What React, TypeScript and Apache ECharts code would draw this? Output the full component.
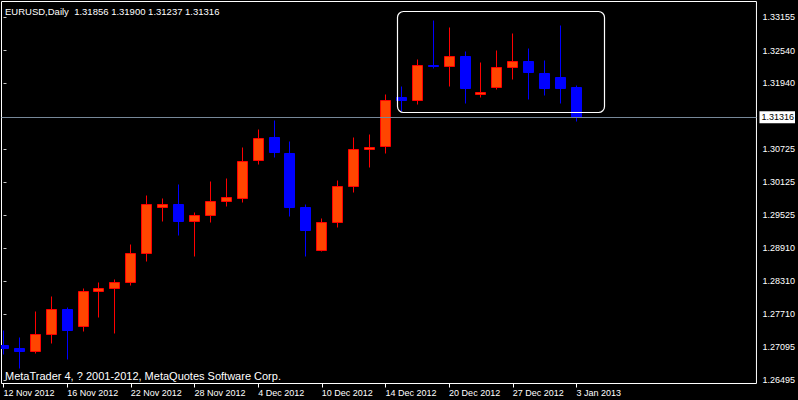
import React, { useEffect, useRef } from "react";
import * as echarts from "echarts";

// Daily EURUSD candles, 12 Nov 2012 .. 3 Jan 2013
const dates = [
  "12 Nov 2012", "13 Nov 2012", "14 Nov 2012", "15 Nov 2012", "16 Nov 2012",
  "19 Nov 2012", "20 Nov 2012", "21 Nov 2012", "22 Nov 2012", "23 Nov 2012",
  "26 Nov 2012", "27 Nov 2012", "28 Nov 2012", "29 Nov 2012", "30 Nov 2012",
  "3 Dec 2012", "4 Dec 2012", "5 Dec 2012", "6 Dec 2012", "7 Dec 2012",
  "10 Dec 2012", "11 Dec 2012", "12 Dec 2012", "13 Dec 2012", "14 Dec 2012",
  "17 Dec 2012", "18 Dec 2012", "19 Dec 2012", "20 Dec 2012", "21 Dec 2012",
  "24 Dec 2012", "26 Dec 2012", "27 Dec 2012", "28 Dec 2012", "31 Dec 2012",
  "2 Jan 2013", "3 Jan 2013",
];

const opens = [
  1.27119, 1.27082, 1.27027, 1.27339, 1.27789, 1.27477, 1.28119, 1.28165, 1.28284, 1.28825,
  1.29660, 1.29706, 1.29403, 1.29513, 1.29770, 1.29816, 1.30522, 1.30935, 1.30651, 1.29660,
  1.28880, 1.29385, 1.30045, 1.30724, 1.30770, 1.31678, 1.31623, 1.32265, 1.32247, 1.32430,
  1.31733, 1.31862, 1.32229, 1.32339, 1.32118, 1.32045, 1.31856,
];
const highs = [
  1.27412, 1.27266, 1.27761, 1.28018, 1.27834, 1.28183, 1.28275, 1.28330, 1.28990, 1.29889,
  1.29834, 1.30073, 1.29559, 1.30128, 1.30201, 1.30752, 1.31082, 1.31247, 1.30862, 1.29724,
  1.29467, 1.30146, 1.30953, 1.31008, 1.31724, 1.31871, 1.32384, 1.33082, 1.32953, 1.32513,
  1.32329, 1.32531, 1.32843, 1.32568, 1.32348, 1.32990, 1.31900,
];
const lows = [
  1.26954, 1.26715, 1.26990, 1.27156, 1.26880, 1.27376, 1.27633, 1.27357, 1.28238, 1.28660,
  1.29412, 1.29137, 1.28770, 1.29376, 1.29669, 1.29743, 1.30440, 1.30586, 1.29486, 1.28752,
  1.28844, 1.29284, 1.29926, 1.30385, 1.30642, 1.31412, 1.31541, 1.32219, 1.31871, 1.31559,
  1.31687, 1.31816, 1.31999, 1.31632, 1.31706, 1.31559, 1.31237,
];
const closes = [
  1.27064, 1.27018, 1.27339, 1.27789, 1.27403, 1.28119, 1.28165, 1.28275, 1.28816, 1.29715,
  1.29706, 1.29403, 1.29522, 1.29770, 1.29843, 1.30504, 1.30926, 1.30660, 1.29660, 1.29247,
  1.29385, 1.30045, 1.30724, 1.30761, 1.31623, 1.31623, 1.32265, 1.32238, 1.32430, 1.31852,
  1.31770, 1.32229, 1.32339, 1.32137, 1.31843, 1.31843, 1.31316,
];

const xTickDates = [
  "12 Nov 2012", "16 Nov 2012", "22 Nov 2012", "28 Nov 2012", "4 Dec 2012",
  "10 Dec 2012", "14 Dec 2012", "20 Dec 2012", "27 Dec 2012", "3 Jan 2013",
];
const yTickLabels = [
  1.26495, 1.27095, 1.2771, 1.2831, 1.2891, 1.29525, 1.30125, 1.30725, 1.3194, 1.3254, 1.33155,
];
const currentPrice = 1.31316;
const headerText = "EURUSD,Daily  1.31856 1.31900 1.31237 1.31316";
const footerText = "MetaTrader 4, ? 2001-2012, MetaQuotes Software Corp.";

const FONT = "'Liberation Sans', Arial, sans-serif";

export default function App() {
  const ref = useRef<HTMLDivElement>(null);
  useEffect(() => {
    if (!ref.current) return;
    const chart = echarts.init(ref.current, undefined, { renderer: "svg" });
    const data = dates.map((_, i) => [i, opens[i], closes[i], lows[i], highs[i]]);
    const tickIdx = xTickDates.map((d) => dates.indexOf(d));
    const crisp = (v: number) => Math.round(v - 0.5) + 0.5;

    chart.setOption({
      animation: false,
      backgroundColor: "#000",
      grid: {
        left: 1.5,
        top: 1.5,
        right: 37.5,
        bottom: 16.5,
        show: true,
        borderColor: "#fff",
        borderWidth: 1,
        backgroundColor: "#000",
      },
      xAxis: {
        type: "value",
        min: -0.125,
        max: 47.3125,
        axisLine: { show: false },
        splitLine: { show: false },
        axisTick: {
          show: true,
          customValues: tickIdx,
          length: 4,
          lineStyle: { color: "#fff" },
        },
        axisLabel: {
          customValues: tickIdx,
          color: "#fff",
          fontSize: 9,
          fontFamily: FONT,
          align: "left",
          margin: 5,
          formatter: (v: number) => dates[Math.round(v)] ?? "",
        },
      },
      yAxis: {
        type: "value",
        position: "right",
        min: 1.26431,
        max: 1.33439,
        axisLine: { show: false },
        splitLine: { show: false },
        axisTick: {
          show: true,
          customValues: yTickLabels,
          length: 3,
          lineStyle: { color: "#c8c8c8" },
        },
        axisLabel: {
          customValues: yTickLabels,
          color: "#fff",
          fontSize: 9,
          fontFamily: FONT,
          margin: 6,
          formatter: (v: number) => v.toFixed(5),
        },
      },
      series: [
        {
          type: "custom",
          clip: true,
          encode: { x: 0, y: [1, 2, 3, 4] },
          data,
          renderItem: (_params: any, api: any) => {
            const i = api.value(0);
            const o = api.value(1);
            const c = api.value(2);
            const l = api.value(3);
            const h = api.value(4);
            const po = api.coord([i, o]);
            const pc = api.coord([i, c]);
            const pl = api.coord([i, l]);
            const ph = api.coord([i, h]);
            const bull = c >= o;
            const stroke = bull ? "#ff0000" : "#0000ff";
            const fill = bull ? "#ff4500" : "#0000ff";
            const cx = crisp(po[0]);
            const yTop = crisp(Math.min(po[1], pc[1]));
            let yBot = crisp(Math.max(po[1], pc[1]));
            if (yBot - yTop < 1) yBot = yTop + 1;
            return {
              type: "group",
              children: [
                {
                  type: "line",
                  shape: { x1: cx, y1: crisp(ph[1]), x2: cx, y2: crisp(pl[1]) },
                  style: { stroke, lineWidth: 1 },
                },
                {
                  type: "rect",
                  shape: { x: cx - 5, y: yTop, width: 10, height: yBot - yTop },
                  style: { fill, stroke, lineWidth: 1 },
                },
              ],
            };
          },
          markLine: {
            silent: true,
            symbol: ["none", "none"],
            animation: false,
            precision: 5,
            lineStyle: { color: "#778899", width: 1, type: "solid" },
            label: {
              show: true,
              position: "end",
              distance: 3,
              formatter: () => currentPrice.toFixed(5),
              backgroundColor: "#fff",
              color: "#000",
              fontSize: 9,
              fontFamily: FONT,
              padding: [2, 1, 1, 2],
            },
            data: [{ yAxis: currentPrice }],
          },
        },
      ],
      graphic: [
        {
          type: "rect",
          z: 100,
          shape: { x: 397.5, y: 11.5, width: 207, height: 101, r: 6 },
          style: { fill: "none", stroke: "#fff", lineWidth: 1.2 },
        },
        {
          type: "text",
          z: 100,
          x: 5,
          y: 11,
          style: {
            text: headerText,
            fill: "#fff",
            font: `9.5px ${FONT}`,
            verticalAlign: "middle",
          },
        },
        {
          type: "text",
          z: 100,
          x: 5,
          y: 376,
          style: {
            text: footerText,
            fill: "#fff",
            font: `11px ${FONT}`,
            verticalAlign: "middle",
          },
        },
      ],
    });
    return () => chart.dispose();
  }, []);
  return (
    <div
      ref={ref}
      style={{ position: "absolute", left: 0, top: 0, width: 798, height: 400, background: "#000" }}
    />
  );
}
